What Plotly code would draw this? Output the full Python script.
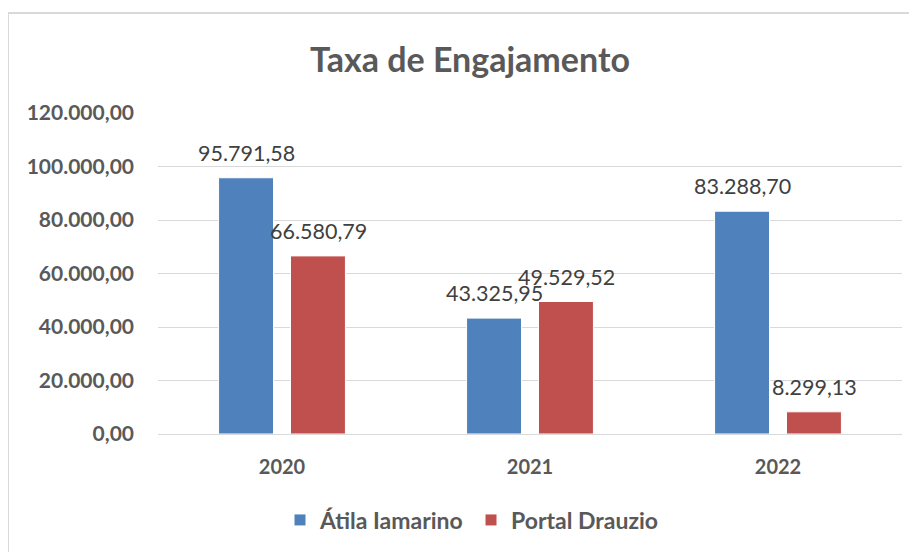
import plotly.graph_objects as go

years = ["2020", "2021", "2022"]
atila = [95791.58, 43325.95, 83288.70]
drauzio = [66580.79, 49529.52, 8299.13]
series_names = ["Átila Iamarino", "Portal Drauzio"]
y_ticks = [0, 20000, 40000, 60000, 80000, 100000, 120000]

FONT = "Lato"
W, H = 917, 552
OFF = 8  # page body margin offset
L, R, T, B = 158 - OFF, 15 + OFF, 113 - OFF, 118 + OFF
SLOT = 36  # half of the per-series slot width in px


def br(v):
    return f"{v:,.2f}".replace(",", "X").replace(".", ",").replace("X", ".")


fig = go.Figure()
for i, (name, vals, col) in enumerate([(series_names[0], atila, "#4F81BD"),
                                       (series_names[1], drauzio, "#C0504D")]):
    fig.add_trace(go.Bar(
        x=years, y=vals, name=name,
        marker=dict(color=col, line=dict(color="white", width=1)),
    ))
    for j, v in enumerate(vals):
        fig.add_annotation(
            x=j, y=v, xref="x", yref="y", text=br(v),
            showarrow=False, xshift=(-SLOT if i == 0 else SLOT), yshift=25,
            yanchor="middle", xanchor="center", borderpad=0,
            font=dict(family=FONT, size=21.5, color="#404040"),
        )

pw, ph = W - L - R, H - T - B
fig.update_layout(
    width=W, height=H, margin=dict(l=L, r=R, t=T, b=B),
    paper_bgcolor="white", plot_bgcolor="white",
    separators=",.",
    barmode="group", bargap=0.42, bargroupgap=0.236,
    title=dict(text="Taxa de Engajamento", x=(470 - OFF) / W, xref="container", xanchor="center",
               y=1 - (60 - OFF) / H, yref="container", yanchor="middle",
               font=dict(family=FONT, size=34, color="#595959", weight="bold")),
    xaxis=dict(type="category", range=[-0.5, len(years) - 0.5],
               tickfont=dict(family=FONT, size=20, color="#595959", weight="bold"),
               ticklabelstandoff=15,
               showline=True, linecolor="#d9d9d9", linewidth=1, ticks=""),
    yaxis=dict(range=[0, 120000], tickvals=y_ticks, tickformat=",.2f",
               tickfont=dict(family=FONT, size=21, color="#595959", weight="bold"),
               ticklabelstandoff=23, gridcolor="#d9d9d9", gridwidth=1,
               zeroline=False, showline=False),
    legend=dict(orientation="h", x=(471 - OFF) / W, xref="container", xanchor="center",
                y=1 - (520 - OFF) / H, yref="container", yanchor="middle",
                font=dict(family=FONT, size=23, color="#595959", weight="bold"),
                itemwidth=30, entrywidth=146, traceorder="normal"),
    shapes=[dict(type="rect", xref="paper", yref="paper",
                 x0=(8 - OFF - L) / pw, x1=(W + 5 - L) / pw,
                 y0=-(H + 5 - (H - B)) / ph, y1=((H - B) - (13 - OFF)) / ph,
                 line=dict(color="#d9d9d9", width=2), fillcolor="rgba(0,0,0,0)", layer="below")],
)

fig.write_html("out.html")
